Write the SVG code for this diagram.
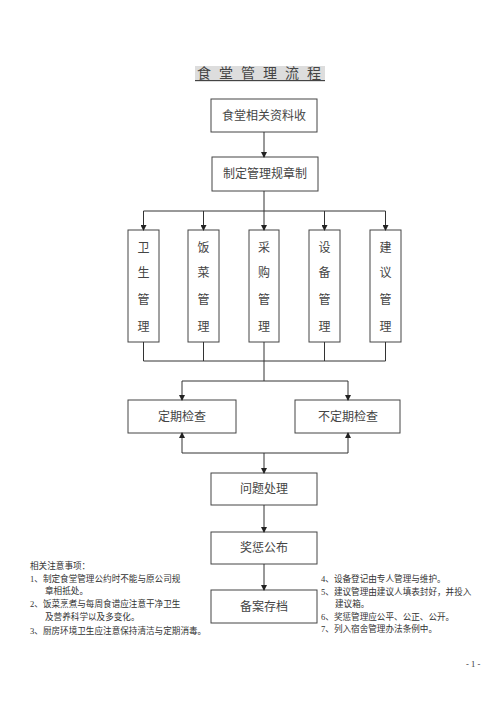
<svg xmlns="http://www.w3.org/2000/svg" width="500" height="707" viewBox="0 0 500 707">
<defs>
<marker id="ah" markerWidth="6" markerHeight="6" refX="5" refY="3" orient="auto" markerUnits="userSpaceOnUse">
<path d="M0,0 L6,3 L0,6 Z" fill="#222"/>
</marker>
<style>
.box{fill:#fff;stroke:#444;stroke-width:1}
.t{font-family:"Noto Sans CJK SC","Liberation Serif",sans-serif;font-size:12px;fill:#444;text-anchor:middle}
.v{font-family:"Noto Sans CJK SC",sans-serif;font-size:12px;fill:#444;text-anchor:middle}
.n{font-family:"Liberation Serif","Noto Sans CJK SC",serif;font-size:8.6px;fill:#333}
.c{fill:none;stroke:#333;stroke-width:1}
</style>
</defs>
<rect width="500" height="707" fill="#fff"/>
<g id="title">
<rect x="195" y="66" width="130" height="16" fill="#ddd"/>
<line x1="195" y1="80.5" x2="325" y2="80.5" stroke="#444" stroke-width="1.2"/>
<text class="t" style="font-size:14px;text-anchor:start" x="197 219 241 263 285 307" y="78">食堂管理流程</text>
</g>
<g id="n1"><rect class="box" x="211" y="99" width="106" height="33"/><text class="t" x="264" y="120">食堂相关资料收</text></g>
<g id="n2"><rect class="box" x="212" y="157" width="106" height="34"/><text class="t" x="265" y="178">制定管理规章制</text></g>
<g id="n3"><rect class="box" x="128" y="230" width="31" height="112"/><text class="v" x="143.5" y="252">卫</text><text class="v" x="143.5" y="277">生</text><text class="v" x="143.5" y="304">管</text><text class="v" x="143.5" y="331">理</text></g>
<g id="n4"><rect class="box" x="188" y="230" width="31" height="112"/><text class="v" x="203.5" y="252">饭</text><text class="v" x="203.5" y="277">菜</text><text class="v" x="203.5" y="304">管</text><text class="v" x="203.5" y="331">理</text></g>
<g id="n5"><rect class="box" x="249" y="230" width="30" height="112"/><text class="v" x="264" y="252">采</text><text class="v" x="264" y="277">购</text><text class="v" x="264" y="304">管</text><text class="v" x="264" y="331">理</text></g>
<g id="n6"><rect class="box" x="309" y="230" width="31" height="112"/><text class="v" x="324.5" y="252">设</text><text class="v" x="324.5" y="277">备</text><text class="v" x="324.5" y="304">管</text><text class="v" x="324.5" y="331">理</text></g>
<g id="n7"><rect class="box" x="370" y="230" width="31" height="112"/><text class="v" x="385.5" y="252">建</text><text class="v" x="385.5" y="277">议</text><text class="v" x="385.5" y="304">管</text><text class="v" x="385.5" y="331">理</text></g>
<g id="n8"><rect class="box" x="128" y="400" width="108" height="33"/><text class="t" x="182" y="421">定期检查</text></g>
<g id="n9"><rect class="box" x="295" y="400" width="105" height="33"/><text class="t" x="348" y="421">不定期检查</text></g>
<g id="n10"><rect class="box" x="211" y="473" width="106" height="32"/><text class="t" x="264" y="493">问题处理</text></g>
<g id="n11"><rect class="box" x="211" y="532" width="106" height="32"/><text class="t" x="264" y="552">奖惩公布</text></g>
<g id="n12"><rect class="box" x="211" y="590" width="106" height="33"/><text class="t" x="264" y="611">备案存档</text></g>
<g id="connectors">
<line class="c" x1="264" y1="132" x2="264" y2="157" marker-end="url(#ah)"/>
<line class="c" x1="264" y1="191" x2="264" y2="211"/>
<line class="c" x1="143.5" y1="211" x2="385.5" y2="211"/>
<line class="c" x1="143.5" y1="211" x2="143.5" y2="230" marker-end="url(#ah)"/>
<line class="c" x1="203.5" y1="211" x2="203.5" y2="230" marker-end="url(#ah)"/>
<line class="c" x1="264" y1="211" x2="264" y2="230" marker-end="url(#ah)"/>
<line class="c" x1="324.5" y1="211" x2="324.5" y2="230" marker-end="url(#ah)"/>
<line class="c" x1="385.5" y1="211" x2="385.5" y2="230" marker-end="url(#ah)"/>
<path class="c" d="M143.5,342 V361 M203.5,342 V361 M264,342 V361 M324.5,342 V361 M385.5,342 V361 M143.5,361 H385.5 M264,361 V381 M182,381 H348"/>
<line class="c" x1="182" y1="381" x2="182" y2="400" marker-end="url(#ah)"/>
<line class="c" x1="348" y1="381" x2="348" y2="400" marker-end="url(#ah)"/>
<path class="c" d="M182,453 H348"/>
<line class="c" x1="182" y1="453" x2="182" y2="433" marker-end="url(#ah)"/>
<line class="c" x1="348" y1="453" x2="348" y2="433" marker-end="url(#ah)"/>
<line class="c" x1="264" y1="453" x2="264" y2="473" marker-end="url(#ah)"/>
<line class="c" x1="264" y1="505" x2="264" y2="532" marker-end="url(#ah)"/>
<line class="c" x1="264" y1="564" x2="264" y2="590" marker-end="url(#ah)"/>
</g>
<g id="notes">
<text class="n" x="30" y="569">相关注意事项：</text>
<text class="n" x="30" y="582">1、制定食堂管理公约时不能与原公司规</text>
<text class="n" x="45" y="594">章相抵处。</text>
<text class="n" x="30" y="607">2、饭菜烹煮与每周食谱应注意干净卫生</text>
<text class="n" x="45" y="620">及营养科学以及多变化。</text>
<text class="n" x="30" y="634">3、厨房环境卫生应注意保持清洁与定期消毒。</text>
<text class="n" x="321" y="582">4、设备登记由专人管理与维护。</text>
<text class="n" x="321" y="595">5、建议管理由建议人填表封好，并投入</text>
<text class="n" x="335" y="607">建议箱。</text>
<text class="n" x="321" y="620">6、奖惩管理应公平、公正、公开。</text>
<text class="n" x="321" y="632">7、列入宿舍管理办法条例中。</text>
<text class="n" x="466" y="667">- 1 -</text>
</g>
</svg>
